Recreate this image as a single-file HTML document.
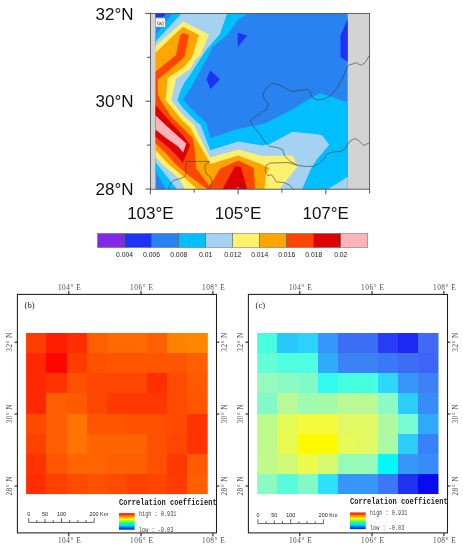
<!DOCTYPE html>
<html lang="en"><head><meta charset="utf-8"><title>Figure</title>
<style>
html,body{margin:0;padding:0;background:#fff;}
svg{display:block;}
.ax{font-family:"Liberation Serif","Noto Serif CJK SC",serif;font-size:7.3px;fill:#4a4a4a;}
</style></head><body>
<svg width="463" height="550" viewBox="0 0 463 550">
<rect width="463" height="550" fill="#fff"/>
<g id="panel-a">
<rect x="150.4" y="13.4" width="219.2" height="175.8" fill="#d3d3d3"/>
<rect x="155.5" y="13.4" width="192.2" height="175.8" fill="#2882f0"/>
<polygon points="155.5,13.4 166.0,13.4 163.5,16.8 155.5,17.3" fill="#1e32f5"/>
<polygon points="237.6,32.7 247.2,35.6 237.9,46.9" fill="#1e32f5"/>
<polygon points="210.2,70.5 220.0,79.2 210.5,89.3 206.5,79.2" fill="#1e32f5"/>
<polygon points="347.7,19.0 340.5,35.5 340.5,57.0 347.7,62.0" fill="#1e32f5"/>
<polygon points="155.5,35.0 172.7,13.4 248.5,13.4 238.1,19.7 227.7,34.6 212.2,47.6 206.3,60.0 198.0,75.0 189.5,90.0 183.1,99.5 188.3,105.4 197.0,114.0 206.4,123.3 210.4,138.0 236.8,129.2 249.8,126.6 265.2,123.3 291.8,109.7 307.4,100.0 320.3,93.1 347.7,102.2 347.7,189.0 166.0,189.0 155.5,171.2" fill="#00beff"/>
<polygon points="155.5,41.8 181.4,13.4 227.1,13.4 220.0,34.0 207.0,48.9 199.5,60.0 190.0,75.0 184.4,82.5 180.0,92.0 177.3,100.2 183.2,108.3 197.0,122.3 200.7,125.0 206.4,140.2 210.4,150.3 238.1,141.5 262.0,145.4 269.8,144.0 292.5,131.7 317.0,134.3 322.2,135.6 329.3,144.7 317.0,159.3 311.2,168.3 302.2,189.0 176.8,189.0 157.8,165.2 155.5,162.4" fill="#a5d2f0"/>
<polygon points="328.0,189.0 347.7,176.7 347.7,189.0" fill="#a5d2f0"/>
<polygon points="155.5,46.0 183.1,21.4 209.0,34.6 200.6,55.0 194.8,60.2 190.9,68.0 176.0,79.0 172.7,93.9 171.1,100.0 183.2,115.3 194.0,124.8 197.0,131.2 204.0,145.7 210.4,157.4 238.1,149.5 262.0,156.0 292.5,155.4 297.6,166.4 279.5,189.0 185.0,189.0 178.9,178.5 162.5,164.5 155.5,157.0" fill="#fff06e"/>
<polygon points="155.5,52.7 182.8,26.8 198.9,34.9 192.8,55.0 190.9,58.9 183.7,67.3 167.5,78.3 166.3,93.9 165.4,100.0 183.2,121.6 190.2,127.4 197.0,140.7 199.4,144.4 210.4,163.9 238.1,155.4 262.0,164.4 264.6,166.4 269.8,167.7 266.0,173.0 264.6,189.0 197.0,189.0 182.2,175.5 169.4,165.0 164.2,159.6 155.5,150.0" fill="#ffa500"/>
<polygon points="155.5,71.8 176.0,55.0 179.9,35.9 182.8,32.7 188.9,35.3 185.0,55.0 182.8,58.5 168.8,70.5 157.8,79.6 157.8,94.0 160.3,100.0 171.1,116.5 183.2,128.6 192.7,138.2 194.7,150.0 195.6,160.0 196.0,168.2 209.4,185.9 220.2,168.6 230.0,164.3 238.1,160.6 253.6,167.7 255.0,189.0 207.0,189.0 190.0,176.5 185.4,172.8 176.3,165.0 166.0,153.5 155.5,143.6" fill="#ff4600"/>
<polygon points="155.5,105.1 171.1,122.9 182.4,134.5 190.1,145.3 182.8,163.0 178.0,157.0 168.6,147.5 155.5,136.7" fill="#dc0000"/>
<polygon points="222.6,189.0 234.9,166.4 240.7,166.4 247.2,189.0" fill="#dc0000"/>
<polygon points="155.5,115.3 165.1,124.6 178.9,137.1 186.3,143.6 183.2,152.6 178.0,146.6 166.0,138.0 155.5,129.8" fill="#ffb4b9"/>
<polyline points="369.3,55.6 365.1,62.6 360.9,65.4 356.7,62.6 348.3,65.4 345.5,71.0 342.7,78.0 337.0,87.9 331.4,94.9 324.4,99.1 317.4,100.0 312.3,97.7 310.4,92.1 307.6,89.3 292.1,91.6 286.5,88.7 279.5,85.1 271.9,83.1 266.8,87.9 263.2,93.5 264.0,99.1 268.3,103.3 266.8,109.0 261.2,113.2 254.2,117.4 250.0,121.2 252.8,125.8 259.8,134.2 265.4,142.7 269.7,146.3 277.6,147.6 282.7,149.5 284.7,156.0 289.9,161.2 297.0,165.1 304.8,166.4 313.8,166.4 319.6,163.1 323.5,159.3 326.7,154.1 332.5,152.1 340.3,151.5 344.9,148.9 349.7,141.3 355.3,138.4 359.5,141.3 363.7,145.5 369.3,142.7" fill="none" stroke="#3a3a3a" stroke-width="0.6"/>
<polyline points="297.0,165.1 288.0,162.5 269.8,163.1 265.9,165.7 265.2,170.9 267.8,175.5 271.7,174.8 274.3,178.7 276.3,181.9 284.0,182.6 289.9,185.2 293.1,189.0" fill="none" stroke="#3a3a3a" stroke-width="0.6"/>
<polyline points="168.8,189.0 169.5,185.2 173.4,180.6 179.9,178.7 184.4,176.7 186.3,173.3 185.6,166.8 186.3,161.4 209.6,161.4 205.1,164.9 205.1,170.7 207.0,174.6 210.9,177.2 212.2,182.4 209.6,188.2 209.3,189.0" fill="none" stroke="#3a3a3a" stroke-width="0.6"/>
<polyline points="236.2,189.0 236.8,187.5 240.0,185.8 243.9,187.1 245.9,189.0" fill="none" stroke="#3a3a3a" stroke-width="0.6"/>
<circle cx="237.9" cy="187.6" r="0.7" fill="#ffd0d0"/>
<rect x="150.4" y="13.4" width="219.2" height="175.8" fill="none" stroke="#4a4a4a" stroke-width="0.85"/>
<line x1="150.4" y1="189.2" x2="150.4" y2="194.2" stroke="#3c3c3c" stroke-width="0.9"/>
<line x1="194.2" y1="189.2" x2="194.2" y2="192.6" stroke="#3c3c3c" stroke-width="0.9"/>
<line x1="238.1" y1="189.2" x2="238.1" y2="194.2" stroke="#3c3c3c" stroke-width="0.9"/>
<line x1="281.9" y1="189.2" x2="281.9" y2="192.6" stroke="#3c3c3c" stroke-width="0.9"/>
<line x1="325.8" y1="189.2" x2="325.8" y2="194.2" stroke="#3c3c3c" stroke-width="0.9"/>
<line x1="369.6" y1="189.2" x2="369.6" y2="193.5" stroke="#3c3c3c" stroke-width="0.9"/>
<line x1="145.4" y1="13.4" x2="150.4" y2="13.4" stroke="#3c3c3c" stroke-width="0.9"/>
<line x1="147.0" y1="57.3" x2="150.4" y2="57.3" stroke="#3c3c3c" stroke-width="0.9"/>
<line x1="145.4" y1="101.2" x2="150.4" y2="101.2" stroke="#3c3c3c" stroke-width="0.9"/>
<line x1="147.0" y1="145.1" x2="150.4" y2="145.1" stroke="#3c3c3c" stroke-width="0.9"/>
<line x1="145.4" y1="189.0" x2="150.4" y2="189.0" stroke="#3c3c3c" stroke-width="0.9"/>
<g font-family="'Liberation Sans', Arial, sans-serif" font-size="17" fill="#111">
<text x="133.6" y="19.6" text-anchor="end">32°N</text>
<text x="133.6" y="107.4" text-anchor="end">30°N</text>
<text x="133.6" y="195.2" text-anchor="end">28°N</text>
<text x="150.4" y="219" text-anchor="middle">103°E</text>
<text x="238.1" y="219" text-anchor="middle">105°E</text>
<text x="325.7" y="219" text-anchor="middle">107°E</text>
</g>
<rect x="155.6" y="18" width="9.6" height="9" fill="#fff" stroke="#888" stroke-width="0.5"/>
<text x="160.4" y="24.6" font-family="'Liberation Sans', sans-serif" font-size="5.6" text-anchor="middle" fill="#222">(a)</text>
<rect x="97.60" y="233.5" width="27.02" height="14" fill="#8228e6" stroke="#555" stroke-width="0.45"/>
<rect x="124.62" y="233.5" width="27.02" height="14" fill="#1e32f5" stroke="#555" stroke-width="0.45"/>
<rect x="151.64" y="233.5" width="27.02" height="14" fill="#2882f0" stroke="#555" stroke-width="0.45"/>
<rect x="178.66" y="233.5" width="27.02" height="14" fill="#00beff" stroke="#555" stroke-width="0.45"/>
<rect x="205.68" y="233.5" width="27.02" height="14" fill="#a5d2f0" stroke="#555" stroke-width="0.45"/>
<rect x="232.70" y="233.5" width="27.02" height="14" fill="#fff06e" stroke="#555" stroke-width="0.45"/>
<rect x="259.72" y="233.5" width="27.02" height="14" fill="#ffa500" stroke="#555" stroke-width="0.45"/>
<rect x="286.74" y="233.5" width="27.02" height="14" fill="#ff4600" stroke="#555" stroke-width="0.45"/>
<rect x="313.76" y="233.5" width="27.02" height="14" fill="#dc0000" stroke="#555" stroke-width="0.45"/>
<rect x="340.78" y="233.5" width="27.02" height="14" fill="#ffb4b9" stroke="#555" stroke-width="0.45"/>
<g font-family="'Liberation Sans', Arial, sans-serif" font-size="6.8" fill="#222" text-anchor="middle">
<text x="124.6" y="257">0.004</text>
<text x="151.6" y="257">0.006</text>
<text x="178.7" y="257">0.008</text>
<text x="205.7" y="257">0.01</text>
<text x="232.7" y="257">0.012</text>
<text x="259.7" y="257">0.014</text>
<text x="286.7" y="257">0.016</text>
<text x="313.8" y="257">0.018</text>
<text x="340.8" y="257">0.02</text>
</g>
</g>
<defs><linearGradient id="ramp" x1="0" y1="0" x2="0" y2="1"><stop offset="0" stop-color="#ff1400"/><stop offset="0.1" stop-color="#ff3c00"/><stop offset="0.25" stop-color="#ffb400"/><stop offset="0.38" stop-color="#f0ff00"/><stop offset="0.5" stop-color="#78ff3c"/><stop offset="0.62" stop-color="#00ffa0"/><stop offset="0.75" stop-color="#00dcff"/><stop offset="0.88" stop-color="#0064ff"/><stop offset="1" stop-color="#0a14ff"/></linearGradient></defs>
<g id="panel-b">
<rect x="26.30" y="333.00" width="181.17" height="161.04" fill="rgb(255,55,0)"/>
<rect x="26.30" y="333.00" width="19.70" height="20.00" fill="rgb(255,60,0)"/>
<rect x="46.00" y="333.00" width="21.00" height="20.00" fill="rgb(255,30,0)"/>
<rect x="67.00" y="333.00" width="20.00" height="20.00" fill="rgb(255,45,0)"/>
<rect x="87.00" y="333.00" width="20.00" height="20.00" fill="rgb(255,95,0)"/>
<rect x="107.00" y="333.00" width="20.00" height="20.00" fill="rgb(255,105,0)"/>
<rect x="127.00" y="333.00" width="20.00" height="20.00" fill="rgb(255,105,0)"/>
<rect x="147.00" y="333.00" width="20.00" height="20.00" fill="rgb(255,95,0)"/>
<rect x="167.00" y="333.00" width="20.00" height="20.00" fill="rgb(255,130,0)"/>
<rect x="187.00" y="333.00" width="20.47" height="20.00" fill="rgb(255,135,0)"/>
<rect x="26.30" y="353.00" width="19.70" height="20.00" fill="rgb(255,40,0)"/>
<rect x="46.00" y="353.00" width="21.00" height="20.00" fill="rgb(255,5,0)"/>
<rect x="67.00" y="353.00" width="20.00" height="20.00" fill="rgb(255,60,0)"/>
<rect x="87.00" y="353.00" width="20.00" height="20.00" fill="rgb(255,80,0)"/>
<rect x="107.00" y="353.00" width="20.00" height="20.00" fill="rgb(255,85,0)"/>
<rect x="127.00" y="353.00" width="20.00" height="20.00" fill="rgb(255,85,0)"/>
<rect x="147.00" y="353.00" width="20.00" height="20.00" fill="rgb(255,85,0)"/>
<rect x="167.00" y="353.00" width="20.00" height="20.00" fill="rgb(255,85,0)"/>
<rect x="187.00" y="353.00" width="20.47" height="20.00" fill="rgb(255,95,0)"/>
<rect x="26.30" y="373.00" width="19.70" height="20.00" fill="rgb(255,40,0)"/>
<rect x="46.00" y="373.00" width="21.00" height="20.00" fill="rgb(255,50,0)"/>
<rect x="67.00" y="373.00" width="20.00" height="20.00" fill="rgb(255,80,0)"/>
<rect x="87.00" y="373.00" width="20.00" height="20.00" fill="rgb(255,70,0)"/>
<rect x="107.00" y="373.00" width="20.00" height="20.00" fill="rgb(255,70,0)"/>
<rect x="127.00" y="373.00" width="20.00" height="20.00" fill="rgb(255,70,0)"/>
<rect x="147.00" y="373.00" width="20.00" height="20.00" fill="rgb(255,45,0)"/>
<rect x="167.00" y="373.00" width="20.00" height="20.00" fill="rgb(255,75,0)"/>
<rect x="187.00" y="373.00" width="20.47" height="20.00" fill="rgb(255,90,0)"/>
<rect x="26.30" y="393.00" width="19.70" height="21.00" fill="rgb(255,40,0)"/>
<rect x="46.00" y="393.00" width="21.00" height="21.00" fill="rgb(255,95,0)"/>
<rect x="67.00" y="393.00" width="20.00" height="21.00" fill="rgb(255,90,0)"/>
<rect x="87.00" y="393.00" width="20.00" height="21.00" fill="rgb(255,70,0)"/>
<rect x="107.00" y="393.00" width="20.00" height="21.00" fill="rgb(255,55,0)"/>
<rect x="127.00" y="393.00" width="20.00" height="21.00" fill="rgb(255,55,0)"/>
<rect x="147.00" y="393.00" width="20.00" height="21.00" fill="rgb(255,55,0)"/>
<rect x="167.00" y="393.00" width="20.00" height="21.00" fill="rgb(255,75,0)"/>
<rect x="187.00" y="393.00" width="20.47" height="21.00" fill="rgb(255,85,0)"/>
<rect x="26.30" y="414.00" width="19.70" height="20.00" fill="rgb(255,75,0)"/>
<rect x="46.00" y="414.00" width="21.00" height="20.00" fill="rgb(255,95,0)"/>
<rect x="67.00" y="414.00" width="20.00" height="20.00" fill="rgb(255,115,0)"/>
<rect x="87.00" y="414.00" width="20.00" height="20.00" fill="rgb(255,85,0)"/>
<rect x="107.00" y="414.00" width="20.00" height="20.00" fill="rgb(255,85,0)"/>
<rect x="127.00" y="414.00" width="20.00" height="20.00" fill="rgb(255,80,0)"/>
<rect x="147.00" y="414.00" width="20.00" height="20.00" fill="rgb(255,80,0)"/>
<rect x="167.00" y="414.00" width="20.00" height="20.00" fill="rgb(255,75,0)"/>
<rect x="187.00" y="414.00" width="20.47" height="20.00" fill="rgb(255,50,0)"/>
<rect x="26.30" y="434.00" width="19.70" height="20.00" fill="rgb(255,65,0)"/>
<rect x="46.00" y="434.00" width="21.00" height="20.00" fill="rgb(255,95,0)"/>
<rect x="67.00" y="434.00" width="20.00" height="20.00" fill="rgb(255,115,0)"/>
<rect x="87.00" y="434.00" width="20.00" height="20.00" fill="rgb(255,100,0)"/>
<rect x="107.00" y="434.00" width="20.00" height="20.00" fill="rgb(255,100,0)"/>
<rect x="127.00" y="434.00" width="20.00" height="20.00" fill="rgb(255,100,0)"/>
<rect x="147.00" y="434.00" width="20.00" height="20.00" fill="rgb(255,80,0)"/>
<rect x="167.00" y="434.00" width="20.00" height="20.00" fill="rgb(255,70,0)"/>
<rect x="187.00" y="434.00" width="20.47" height="20.00" fill="rgb(255,50,0)"/>
<rect x="26.30" y="454.00" width="19.70" height="20.00" fill="rgb(255,50,0)"/>
<rect x="46.00" y="454.00" width="21.00" height="20.00" fill="rgb(255,85,0)"/>
<rect x="67.00" y="454.00" width="20.00" height="20.00" fill="rgb(255,100,0)"/>
<rect x="87.00" y="454.00" width="20.00" height="20.00" fill="rgb(255,100,0)"/>
<rect x="107.00" y="454.00" width="20.00" height="20.00" fill="rgb(255,95,0)"/>
<rect x="127.00" y="454.00" width="20.00" height="20.00" fill="rgb(255,95,0)"/>
<rect x="147.00" y="454.00" width="20.00" height="20.00" fill="rgb(255,80,0)"/>
<rect x="167.00" y="454.00" width="20.00" height="20.00" fill="rgb(255,55,0)"/>
<rect x="187.00" y="454.00" width="20.47" height="20.00" fill="rgb(255,90,0)"/>
<rect x="26.30" y="474.00" width="19.70" height="20.04" fill="rgb(255,45,0)"/>
<rect x="46.00" y="474.00" width="21.00" height="20.04" fill="rgb(255,65,0)"/>
<rect x="67.00" y="474.00" width="20.00" height="20.04" fill="rgb(255,75,0)"/>
<rect x="87.00" y="474.00" width="20.00" height="20.04" fill="rgb(255,80,0)"/>
<rect x="107.00" y="474.00" width="20.00" height="20.04" fill="rgb(255,75,0)"/>
<rect x="127.00" y="474.00" width="20.00" height="20.04" fill="rgb(255,65,0)"/>
<rect x="147.00" y="474.00" width="20.00" height="20.04" fill="rgb(255,70,0)"/>
<rect x="167.00" y="474.00" width="20.00" height="20.04" fill="rgb(255,60,0)"/>
<rect x="187.00" y="474.00" width="20.47" height="20.04" fill="rgb(255,95,0)"/>
<rect x="17.4" y="294.4" width="199.1" height="238.5" fill="none" stroke="#1e1e1e" stroke-width="1.05"/>
<line x1="68.8" y1="294.4" x2="68.8" y2="291.09999999999997" stroke="#1e1e1e" stroke-width="1.1"/>
<line x1="68.8" y1="532.9" x2="68.8" y2="536.1999999999999" stroke="#1e1e1e" stroke-width="1.1"/>
<text x="69.3" y="290.1" class="ax" text-anchor="middle" textLength="22.8" lengthAdjust="spacing">104° E</text>
<text x="69.3" y="543.3" class="ax" text-anchor="middle" textLength="22.8" lengthAdjust="spacing">104° E</text>
<line x1="141.0" y1="294.4" x2="141.0" y2="291.09999999999997" stroke="#1e1e1e" stroke-width="1.1"/>
<line x1="141.0" y1="532.9" x2="141.0" y2="536.1999999999999" stroke="#1e1e1e" stroke-width="1.1"/>
<text x="141.5" y="290.1" class="ax" text-anchor="middle" textLength="22.8" lengthAdjust="spacing">106° E</text>
<text x="141.5" y="543.3" class="ax" text-anchor="middle" textLength="22.8" lengthAdjust="spacing">106° E</text>
<line x1="212.9" y1="294.4" x2="212.9" y2="291.09999999999997" stroke="#1e1e1e" stroke-width="1.1"/>
<line x1="212.9" y1="532.9" x2="212.9" y2="536.1999999999999" stroke="#1e1e1e" stroke-width="1.1"/>
<text x="213.4" y="290.1" class="ax" text-anchor="middle" textLength="22.8" lengthAdjust="spacing">108° E</text>
<text x="213.4" y="543.3" class="ax" text-anchor="middle" textLength="22.8" lengthAdjust="spacing">108° E</text>
<line x1="17.4" y1="342.2" x2="14.6" y2="342.2" stroke="#1e1e1e" stroke-width="1.1"/>
<line x1="216.5" y1="342.2" x2="219.3" y2="342.2" stroke="#1e1e1e" stroke-width="1.1"/>
<text transform="translate(12.2,342.2) rotate(-90)" class="ax" text-anchor="middle" textLength="19" lengthAdjust="spacing">32° N</text>
<text transform="translate(226.7,342.2) rotate(-90)" class="ax" text-anchor="middle" textLength="19" lengthAdjust="spacing">32° N</text>
<line x1="17.4" y1="414.0" x2="14.6" y2="414.0" stroke="#1e1e1e" stroke-width="1.1"/>
<line x1="216.5" y1="414.0" x2="219.3" y2="414.0" stroke="#1e1e1e" stroke-width="1.1"/>
<text transform="translate(12.2,414.0) rotate(-90)" class="ax" text-anchor="middle" textLength="19" lengthAdjust="spacing">30° N</text>
<text transform="translate(226.7,414.0) rotate(-90)" class="ax" text-anchor="middle" textLength="19" lengthAdjust="spacing">30° N</text>
<line x1="17.4" y1="486.0" x2="14.6" y2="486.0" stroke="#1e1e1e" stroke-width="1.1"/>
<line x1="216.5" y1="486.0" x2="219.3" y2="486.0" stroke="#1e1e1e" stroke-width="1.1"/>
<text transform="translate(12.2,486.0) rotate(-90)" class="ax" text-anchor="middle" textLength="19" lengthAdjust="spacing">28° N</text>
<text transform="translate(226.7,486.0) rotate(-90)" class="ax" text-anchor="middle" textLength="19" lengthAdjust="spacing">28° N</text>
<text x="24.6" y="308" font-family="'Liberation Serif', serif" font-size="8.6" fill="#222">(b)</text>
<path d="M28.70,518.0 V522.4 H94.22 V518.0" fill="none" stroke="#222" stroke-width="0.7"/>
<line x1="36.89" y1="522.4" x2="36.89" y2="520.0" stroke="#222" stroke-width="0.7"/>
<line x1="45.08" y1="522.4" x2="45.08" y2="519.1" stroke="#222" stroke-width="0.7"/>
<line x1="53.27" y1="522.4" x2="53.27" y2="520.0" stroke="#222" stroke-width="0.7"/>
<line x1="61.46" y1="522.4" x2="61.46" y2="518.0" stroke="#222" stroke-width="0.7"/>
<line x1="69.65" y1="522.4" x2="69.65" y2="520.0" stroke="#222" stroke-width="0.7"/>
<line x1="77.84" y1="522.4" x2="77.84" y2="520.0" stroke="#222" stroke-width="0.7"/>
<line x1="86.03" y1="522.4" x2="86.03" y2="520.0" stroke="#222" stroke-width="0.7"/>
<g font-family="'Liberation Sans', Arial, sans-serif" font-size="5.4" fill="#222">
<text x="28.7" y="516.0" text-anchor="middle">0</text>
<text x="45.1" y="516.0" text-anchor="middle">50</text>
<text x="61.5" y="516.0" text-anchor="middle">100</text>
<text x="89.6" y="516.0">200 Km</text>
</g>
<text x="119.1" y="505.2" font-family="'Liberation Mono', monospace" font-weight="bold" font-size="8.6" fill="#222" textLength="97.6" lengthAdjust="spacingAndGlyphs">Correlation coefficient</text>
<rect x="119.0" y="513.1" width="15.7" height="16.6" fill="url(#ramp)"/>
<text x="139.0" y="516.2" font-family="'Liberation Mono', monospace" font-size="7" fill="#444" textLength="37.4" lengthAdjust="spacingAndGlyphs">high : 0.931</text>
<text x="139.0" y="531.6" font-family="'Liberation Mono', monospace" font-size="7" fill="#444" textLength="34.3" lengthAdjust="spacingAndGlyphs">low : -0.03</text>
</g>
<g id="panel-c">
<rect x="257.30" y="333.00" width="181.17" height="161.04" fill="rgb(185,250,150)"/>
<rect x="257.30" y="333.00" width="19.70" height="20.00" fill="rgb(70,255,225)"/>
<rect x="277.00" y="333.00" width="21.00" height="20.00" fill="rgb(40,200,250)"/>
<rect x="298.00" y="333.00" width="20.00" height="20.00" fill="rgb(45,210,250)"/>
<rect x="318.00" y="333.00" width="20.00" height="20.00" fill="rgb(55,150,250)"/>
<rect x="338.00" y="333.00" width="20.00" height="20.00" fill="rgb(60,110,245)"/>
<rect x="358.00" y="333.00" width="20.00" height="20.00" fill="rgb(60,110,245)"/>
<rect x="378.00" y="333.00" width="20.00" height="20.00" fill="rgb(40,60,245)"/>
<rect x="398.00" y="333.00" width="20.00" height="20.00" fill="rgb(30,40,245)"/>
<rect x="418.00" y="333.00" width="20.47" height="20.00" fill="rgb(65,105,245)"/>
<rect x="257.30" y="353.00" width="19.70" height="20.00" fill="rgb(100,255,215)"/>
<rect x="277.00" y="353.00" width="21.00" height="20.00" fill="rgb(80,255,225)"/>
<rect x="298.00" y="353.00" width="20.00" height="20.00" fill="rgb(80,255,225)"/>
<rect x="318.00" y="353.00" width="20.00" height="20.00" fill="rgb(50,170,250)"/>
<rect x="338.00" y="353.00" width="20.00" height="20.00" fill="rgb(60,130,245)"/>
<rect x="358.00" y="353.00" width="20.00" height="20.00" fill="rgb(60,130,245)"/>
<rect x="378.00" y="353.00" width="20.00" height="20.00" fill="rgb(60,120,245)"/>
<rect x="398.00" y="353.00" width="20.00" height="20.00" fill="rgb(60,110,245)"/>
<rect x="418.00" y="353.00" width="20.47" height="20.00" fill="rgb(60,100,245)"/>
<rect x="257.30" y="373.00" width="19.70" height="20.00" fill="rgb(150,250,190)"/>
<rect x="277.00" y="373.00" width="21.00" height="20.00" fill="rgb(140,250,195)"/>
<rect x="298.00" y="373.00" width="20.00" height="20.00" fill="rgb(130,250,200)"/>
<rect x="318.00" y="373.00" width="20.00" height="20.00" fill="rgb(50,250,240)"/>
<rect x="338.00" y="373.00" width="20.00" height="20.00" fill="rgb(70,255,225)"/>
<rect x="358.00" y="373.00" width="20.00" height="20.00" fill="rgb(70,255,225)"/>
<rect x="378.00" y="373.00" width="20.00" height="20.00" fill="rgb(45,215,250)"/>
<rect x="398.00" y="373.00" width="20.00" height="20.00" fill="rgb(55,150,250)"/>
<rect x="418.00" y="373.00" width="20.47" height="20.00" fill="rgb(60,130,245)"/>
<rect x="257.30" y="393.00" width="19.70" height="21.00" fill="rgb(130,250,200)"/>
<rect x="277.00" y="393.00" width="21.00" height="21.00" fill="rgb(185,250,150)"/>
<rect x="298.00" y="393.00" width="20.00" height="21.00" fill="rgb(160,250,175)"/>
<rect x="318.00" y="393.00" width="20.00" height="21.00" fill="rgb(165,250,170)"/>
<rect x="338.00" y="393.00" width="20.00" height="21.00" fill="rgb(185,250,150)"/>
<rect x="358.00" y="393.00" width="20.00" height="21.00" fill="rgb(185,250,150)"/>
<rect x="378.00" y="393.00" width="20.00" height="21.00" fill="rgb(140,250,195)"/>
<rect x="398.00" y="393.00" width="20.00" height="21.00" fill="rgb(45,205,250)"/>
<rect x="418.00" y="393.00" width="20.47" height="21.00" fill="rgb(55,140,250)"/>
<rect x="257.30" y="414.00" width="19.70" height="20.00" fill="rgb(190,250,140)"/>
<rect x="277.00" y="414.00" width="21.00" height="20.00" fill="rgb(228,250,85)"/>
<rect x="298.00" y="414.00" width="20.00" height="20.00" fill="rgb(245,250,60)"/>
<rect x="318.00" y="414.00" width="20.00" height="20.00" fill="rgb(245,250,60)"/>
<rect x="338.00" y="414.00" width="20.00" height="20.00" fill="rgb(225,250,100)"/>
<rect x="358.00" y="414.00" width="20.00" height="20.00" fill="rgb(225,250,100)"/>
<rect x="378.00" y="414.00" width="20.00" height="20.00" fill="rgb(175,250,160)"/>
<rect x="398.00" y="414.00" width="20.00" height="20.00" fill="rgb(120,250,210)"/>
<rect x="418.00" y="414.00" width="20.47" height="20.00" fill="rgb(50,170,250)"/>
<rect x="257.30" y="434.00" width="19.70" height="20.00" fill="rgb(190,250,140)"/>
<rect x="277.00" y="434.00" width="21.00" height="20.00" fill="rgb(232,250,80)"/>
<rect x="298.00" y="434.00" width="20.00" height="20.00" fill="rgb(255,250,0)"/>
<rect x="318.00" y="434.00" width="20.00" height="20.00" fill="rgb(255,250,0)"/>
<rect x="338.00" y="434.00" width="20.00" height="20.00" fill="rgb(230,250,90)"/>
<rect x="358.00" y="434.00" width="20.00" height="20.00" fill="rgb(225,250,100)"/>
<rect x="378.00" y="434.00" width="20.00" height="20.00" fill="rgb(170,250,165)"/>
<rect x="398.00" y="434.00" width="20.00" height="20.00" fill="rgb(45,205,250)"/>
<rect x="418.00" y="434.00" width="20.47" height="20.00" fill="rgb(55,130,250)"/>
<rect x="257.30" y="454.00" width="19.70" height="20.00" fill="rgb(192,250,138)"/>
<rect x="277.00" y="454.00" width="21.00" height="20.00" fill="rgb(208,250,118)"/>
<rect x="298.00" y="454.00" width="20.00" height="20.00" fill="rgb(236,250,78)"/>
<rect x="318.00" y="454.00" width="20.00" height="20.00" fill="rgb(215,250,110)"/>
<rect x="338.00" y="454.00" width="20.00" height="20.00" fill="rgb(150,250,185)"/>
<rect x="358.00" y="454.00" width="20.00" height="20.00" fill="rgb(150,250,185)"/>
<rect x="378.00" y="454.00" width="20.00" height="20.00" fill="rgb(0,250,250)"/>
<rect x="398.00" y="454.00" width="20.00" height="20.00" fill="rgb(55,150,250)"/>
<rect x="418.00" y="454.00" width="20.47" height="20.00" fill="rgb(55,140,250)"/>
<rect x="257.30" y="474.00" width="19.70" height="20.04" fill="rgb(140,250,195)"/>
<rect x="277.00" y="474.00" width="21.00" height="20.04" fill="rgb(90,250,220)"/>
<rect x="298.00" y="474.00" width="20.00" height="20.04" fill="rgb(130,250,200)"/>
<rect x="318.00" y="474.00" width="20.00" height="20.04" fill="rgb(45,225,250)"/>
<rect x="338.00" y="474.00" width="20.00" height="20.04" fill="rgb(55,150,250)"/>
<rect x="358.00" y="474.00" width="20.00" height="20.04" fill="rgb(55,150,250)"/>
<rect x="378.00" y="474.00" width="20.00" height="20.04" fill="rgb(60,120,245)"/>
<rect x="398.00" y="474.00" width="20.00" height="20.04" fill="rgb(30,50,240)"/>
<rect x="418.00" y="474.00" width="20.47" height="20.04" fill="rgb(10,10,240)"/>
<rect x="248.4" y="294.4" width="199.1" height="238.5" fill="none" stroke="#1e1e1e" stroke-width="1.05"/>
<line x1="299.8" y1="294.4" x2="299.8" y2="291.09999999999997" stroke="#1e1e1e" stroke-width="1.1"/>
<line x1="299.8" y1="532.9" x2="299.8" y2="536.1999999999999" stroke="#1e1e1e" stroke-width="1.1"/>
<text x="300.3" y="290.1" class="ax" text-anchor="middle" textLength="22.8" lengthAdjust="spacing">104° E</text>
<text x="300.3" y="543.3" class="ax" text-anchor="middle" textLength="22.8" lengthAdjust="spacing">104° E</text>
<line x1="372.0" y1="294.4" x2="372.0" y2="291.09999999999997" stroke="#1e1e1e" stroke-width="1.1"/>
<line x1="372.0" y1="532.9" x2="372.0" y2="536.1999999999999" stroke="#1e1e1e" stroke-width="1.1"/>
<text x="372.5" y="290.1" class="ax" text-anchor="middle" textLength="22.8" lengthAdjust="spacing">106° E</text>
<text x="372.5" y="543.3" class="ax" text-anchor="middle" textLength="22.8" lengthAdjust="spacing">106° E</text>
<line x1="443.9" y1="294.4" x2="443.9" y2="291.09999999999997" stroke="#1e1e1e" stroke-width="1.1"/>
<line x1="443.9" y1="532.9" x2="443.9" y2="536.1999999999999" stroke="#1e1e1e" stroke-width="1.1"/>
<text x="444.4" y="290.1" class="ax" text-anchor="middle" textLength="22.8" lengthAdjust="spacing">108° E</text>
<text x="444.4" y="543.3" class="ax" text-anchor="middle" textLength="22.8" lengthAdjust="spacing">108° E</text>
<line x1="248.4" y1="342.2" x2="245.6" y2="342.2" stroke="#1e1e1e" stroke-width="1.1"/>
<line x1="447.5" y1="342.2" x2="450.3" y2="342.2" stroke="#1e1e1e" stroke-width="1.1"/>
<text transform="translate(243.2,342.2) rotate(-90)" class="ax" text-anchor="middle" textLength="19" lengthAdjust="spacing">32° N</text>
<text transform="translate(457.7,342.2) rotate(-90)" class="ax" text-anchor="middle" textLength="19" lengthAdjust="spacing">32° N</text>
<line x1="248.4" y1="414.0" x2="245.6" y2="414.0" stroke="#1e1e1e" stroke-width="1.1"/>
<line x1="447.5" y1="414.0" x2="450.3" y2="414.0" stroke="#1e1e1e" stroke-width="1.1"/>
<text transform="translate(243.2,414.0) rotate(-90)" class="ax" text-anchor="middle" textLength="19" lengthAdjust="spacing">30° N</text>
<text transform="translate(457.7,414.0) rotate(-90)" class="ax" text-anchor="middle" textLength="19" lengthAdjust="spacing">30° N</text>
<line x1="248.4" y1="486.0" x2="245.6" y2="486.0" stroke="#1e1e1e" stroke-width="1.1"/>
<line x1="447.5" y1="486.0" x2="450.3" y2="486.0" stroke="#1e1e1e" stroke-width="1.1"/>
<text transform="translate(243.2,486.0) rotate(-90)" class="ax" text-anchor="middle" textLength="19" lengthAdjust="spacing">28° N</text>
<text transform="translate(457.7,486.0) rotate(-90)" class="ax" text-anchor="middle" textLength="19" lengthAdjust="spacing">28° N</text>
<text x="255.6" y="308" font-family="'Liberation Serif', serif" font-size="8.6" fill="#222">(c)</text>
<path d="M257.90,519.2 V523.6 H323.42 V519.2" fill="none" stroke="#222" stroke-width="0.7"/>
<line x1="266.09" y1="523.6" x2="266.09" y2="521.2" stroke="#222" stroke-width="0.7"/>
<line x1="274.28" y1="523.6" x2="274.28" y2="520.3000000000001" stroke="#222" stroke-width="0.7"/>
<line x1="282.47" y1="523.6" x2="282.47" y2="521.2" stroke="#222" stroke-width="0.7"/>
<line x1="290.66" y1="523.6" x2="290.66" y2="519.2" stroke="#222" stroke-width="0.7"/>
<line x1="298.85" y1="523.6" x2="298.85" y2="521.2" stroke="#222" stroke-width="0.7"/>
<line x1="307.04" y1="523.6" x2="307.04" y2="521.2" stroke="#222" stroke-width="0.7"/>
<line x1="315.23" y1="523.6" x2="315.23" y2="521.2" stroke="#222" stroke-width="0.7"/>
<g font-family="'Liberation Sans', Arial, sans-serif" font-size="5.4" fill="#222">
<text x="257.9" y="517.2" text-anchor="middle">0</text>
<text x="274.3" y="517.2" text-anchor="middle">50</text>
<text x="290.7" y="517.2" text-anchor="middle">100</text>
<text x="318.8" y="517.2">200 Km</text>
</g>
<text x="350.1" y="503.8" font-family="'Liberation Mono', monospace" font-weight="bold" font-size="8.6" fill="#222" textLength="97.6" lengthAdjust="spacingAndGlyphs">Correlation coefficient</text>
<rect x="350.0" y="512.5" width="15.7" height="16.6" fill="url(#ramp)"/>
<text x="370.0" y="515.0" font-family="'Liberation Mono', monospace" font-size="7" fill="#444" textLength="37.4" lengthAdjust="spacingAndGlyphs">high : 0.931</text>
<text x="370.0" y="530.4" font-family="'Liberation Mono', monospace" font-size="7" fill="#444" textLength="34.3" lengthAdjust="spacingAndGlyphs">low : -0.03</text>
</g>
</svg>
</body></html>
